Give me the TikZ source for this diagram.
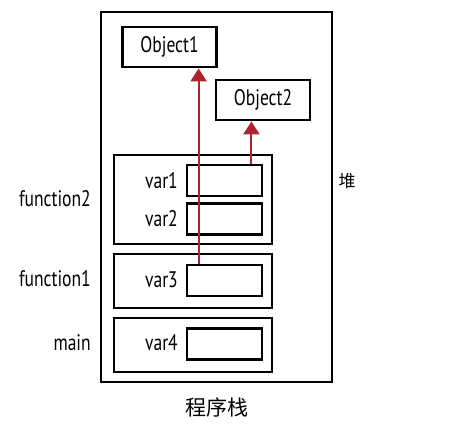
\documentclass[tikz,border=0pt]{standalone}
\usepackage{fontspec}
\setmainfont[FakeStretch=0.78]{PT Sans}
\newfontfamily\cjk{Noto Sans CJK SC}
\usetikzlibrary{arrows.meta,positioning}
\definecolor{refred}{RGB}{172,36,44}

\begin{document}
\begin{tikzpicture}[
    x=1pt, y=-1pt,
    every node/.style={font=\fontsize{22.5}{24}\selectfont},
    heapbox/.style={draw, line width=2pt, minimum width=231pt, minimum height=370pt, inner sep=0pt},
    objbox/.style={draw, line width=2.8pt, minimum width=94pt, minimum height=40pt, inner sep=0pt},
    framebox/.style={draw, line width=2.8pt, minimum width=158pt, inner sep=0pt},
    slot/.style={draw, line width=2.8pt, minimum width=75pt, minimum height=31pt, inner sep=0pt},
    varlabel/.style={anchor=east, inner sep=0pt},
    ref/.style={-{Triangle[length=13pt,width=16pt]}, line width=2pt, draw=refred, fill=refred}
]
\useasboundingbox (0,0) rectangle (475,424);
% heap and objects
\node[heapbox] (heap) at (216.5,197) {};
\node[objbox] (obj1) at (169.5,47) {Object1};
\node[objbox] (obj2) at (263,100) {Object2};
% stack frames
\node[framebox, minimum height=89pt] (fn2) at (193,199.5) {};
\node[framebox, minimum height=54pt] (fn1) at (193,281) {};
\node[framebox, minimum height=54pt] (mainf) at (193,345) {};
\node[slot] (var1) at (224.5,180.5) {};
\node[slot] (var2) at (224.5,219) {};
\node[slot] (var3) at (224.5,280.5) {};
\node[slot] (var4) at (224.5,344) {};
\node[varlabel] (var1l) at (178,181) {var1};
\node[varlabel] (var2l) at (178,219) {var2};
\node[varlabel] (var3l) at (178,280) {var3};
\node[varlabel] (var4l) at (178,343) {var4};
\node[varlabel] (fn2l) at (91,199) {function2};
\node[varlabel] (fn1l) at (91,279) {function1};
\node[varlabel] (mainl) at (91,343) {main};
\node (heapl) at (347,181) {\cjk\fontsize{17}{19}\selectfont 堆};
\node (stackl) at (217,407) {\cjk\fontsize{21}{23}\selectfont 程序栈};
% references
\draw[ref] ([xshift=13pt]var3.north west) -- ([xshift=13pt]var3.north west |- obj1.south);
\draw[ref] ([xshift=-12pt]var1.north east) -- ([xshift=-12pt]var1.north east |- obj2.south);
\end{tikzpicture}
\end{document}
